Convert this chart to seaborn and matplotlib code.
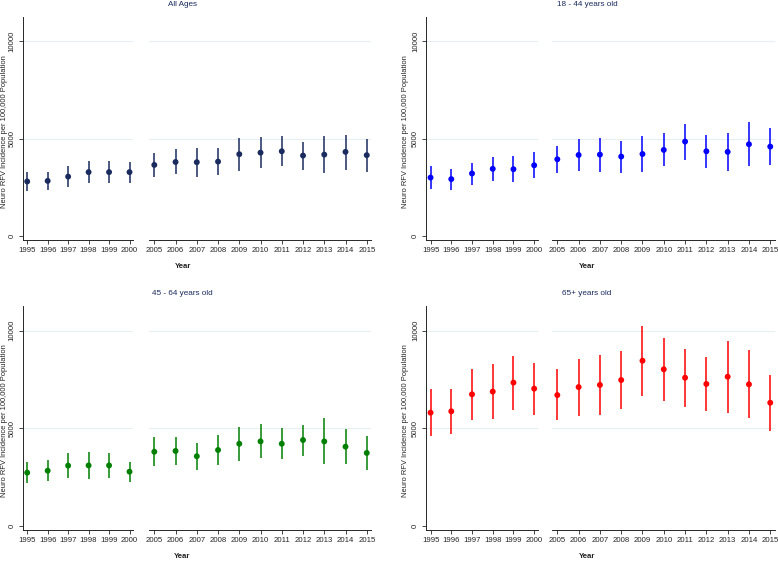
import numpy as np
import pandas as pd
import seaborn as sns
import matplotlib.pyplot as plt

years = [1995, 1996, 1997, 1998, 1999, 2000,
         2005, 2006, 2007, 2008, 2009, 2010, 2011, 2012, 2013, 2014, 2015]

# All Ages
all_mean = [2800, 2830, 3050, 3280, 3280, 3280, 3650, 3800, 3790, 3820, 4200, 4280, 4350, 4130, 4180, 4320, 4150]
all_lo = [2320, 2340, 2540, 2700, 2700, 2730, 3020, 3160, 3050, 3120, 3360, 3500, 3580, 3410, 3260, 3410, 3290]
all_hi = [3280, 3310, 3580, 3860, 3840, 3790, 4280, 4450, 4500, 4500, 5020, 5070, 5120, 4810, 5120, 5190, 4960]

# 18 - 44 years old
young_mean = [3000, 2920, 3210, 3450, 3430, 3630, 3940, 4160, 4180, 4080, 4210, 4420, 4850, 4350, 4320, 4710, 4590]
young_lo = [2400, 2370, 2610, 2820, 2750, 2970, 3210, 3360, 3310, 3260, 3290, 3570, 3920, 3510, 3360, 3620, 3650]
young_hi = [3600, 3460, 3770, 4040, 4110, 4300, 4640, 4960, 5030, 4880, 5150, 5270, 5730, 5170, 5270, 5840, 5550]

# 45 - 64 years old
mid_mean = [2730, 2830, 3090, 3100, 3100, 2780, 3800, 3840, 3570, 3890, 4210, 4330, 4210, 4400, 4330, 4060, 3740]
mid_lo = [2180, 2300, 2470, 2420, 2470, 2270, 3090, 3140, 2880, 3120, 3330, 3460, 3410, 3600, 3170, 3170, 2880]
mid_hi = [3280, 3380, 3720, 3770, 3720, 3290, 4540, 4540, 4250, 4660, 5080, 5220, 5000, 5190, 5510, 4960, 4590]

# 65+ years old
old_mean = [5800, 5870, 6740, 6880, 7340, 7030, 6700, 7110, 7220, 7470, 8460, 8020, 7590, 7270, 7640, 7250, 6310]
old_lo = [4620, 4730, 5410, 5480, 5950, 5680, 5410, 5650, 5700, 5970, 6640, 6400, 6110, 5890, 5780, 5510, 4860]
old_hi = [7000, 7010, 8040, 8270, 8700, 8360, 8020, 8560, 8740, 8960, 10250, 9620, 9060, 8670, 9470, 8990, 7710]

titles = ["All Ages", "18 - 44 years old", "45 - 64 years old", "65+ years old"]
colors = ["#1a2b5e", "#0000ff", "#008000", "#ff0000"]
means = [all_mean, young_mean, mid_mean, old_mean]
los = [all_lo, young_lo, mid_lo, old_lo]
his = [all_hi, young_hi, mid_hi, old_hi]

sns.set_style("white")
plt.rcParams['font.family'] = ['Liberation Sans', 'DejaVu Sans']

W, H = 778, 561
fig = plt.figure(figsize=(W / 100, H / 100), dpi=100)

# pixel boxes: left sub (x0, x1), right sub (x0, x1), (top, bottom), title x, ylabel x, title y, xlabel y
panel_px = [
    ((22.7, 133), (149, 371), (16.7, 240), 183, 5, 4, 266.7),
    ((426, 537.7), (552, 774.5), (16.7, 240), 587, 405.5, 4, 266.7),
    ((22.7, 133), (149, 371), (306, 530), 182, 5, 293, 556.7),
    ((426, 537.7), (552, 774.5), (306, 530), 587, 405.5, 293, 556.7),
]

title_col = "#1a2b5e"
grid_col = "#e6eef1"
fs = 5.6

for i in range(4):
    df = pd.DataFrame({"year": years, "mean": means[i], "lo": los[i], "hi": his[i]})
    (lx0, lx1), (rx0, rx1), (ty, by), tx, ylx, tty, yly = panel_px[i]
    ax_l = fig.add_axes([lx0 / W, 1 - by / H, (lx1 - lx0) / W, (by - ty) / H])
    ax_r = fig.add_axes([rx0 / W, 1 - by / H, (rx1 - rx0) / W, (by - ty) / H])
    for ax, part, xlim in [(ax_l, df[df.year <= 2000], (1994.78, 2000.17)),
                           (ax_r, df[df.year >= 2005], (2004.75, 2015.2))]:
        ax.vlines(part["year"], part["lo"], part["hi"], color=colors[i], lw=1.1, zorder=2)
        sns.scatterplot(data=part, x="year", y="mean", ax=ax, color=colors[i],
                        s=18, edgecolor="none", zorder=3, legend=False)
        for g in (5000, 10000):
            ax.axhline(g, color=grid_col, lw=0.8, zorder=1)
        ax.set_xlim(*xlim)
        ax.set_ylim(-205, 11260)
        ax.set_xticks(part["year"])
        ax.set_xticklabels([str(y) for y in part["year"]], fontsize=fs)
        ax.set_xlabel("")
        ax.set_ylabel("")
        ax.tick_params(axis="x", length=3, width=0.6, pad=2, direction="out", bottom=True)
        for s in ("top", "right"):
            ax.spines[s].set_visible(False)
        ax.spines["bottom"].set_linewidth(0.7)
        ax.spines["left"].set_linewidth(0.7)
    ax_l.set_yticks([0, 5000, 10000])
    ax_l.set_yticklabels(["0", "5000", "10000"], fontsize=fs, rotation=90, va="center")
    ax_l.tick_params(axis="y", length=3, width=0.6, pad=2, left=True)
    ax_r.set_yticks([])
    ax_r.spines["left"].set_visible(False)

    fig.text(tx / W, 1 - tty / H, titles[i], ha="center", va="center", fontsize=fs + 0.3, color=title_col)
    fig.text(tx / W, 1 - yly / H, "Year", ha="center", va="center", fontsize=fs,
             fontweight="bold", color="#222222")
    fig.text(ylx / W, 1 - ((ty + by) / 2 + 3) / H, "Neuro RFV Incidence per 100,000 Population",
             ha="center", va="center", rotation=90, fontsize=fs - 0.2, color="#222222")

fig.savefig("out.png", dpi=100)
